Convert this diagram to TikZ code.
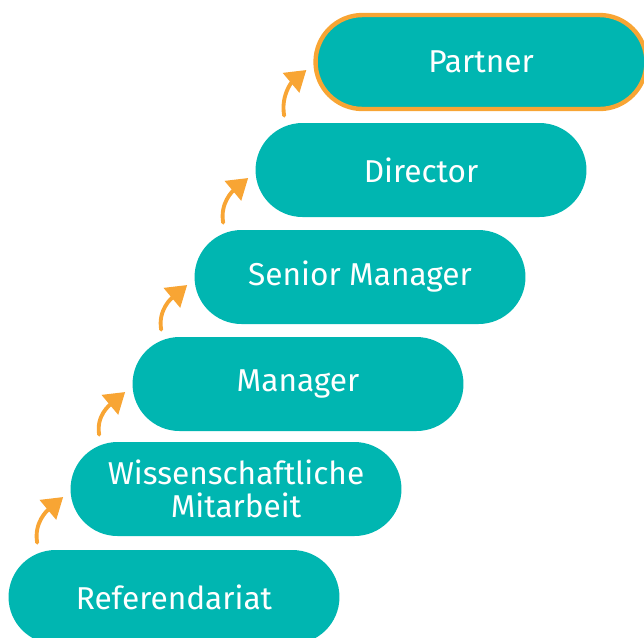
\documentclass[tikz,border=0pt]{standalone}
\usepackage{fontspec}
\setmainfont{Fira Sans}
\usepackage{xcolor}
\usepackage{tikz}
\usetikzlibrary{arrows.meta}

\definecolor{stageteal}{HTML}{00B6B1}
\definecolor{stageorange}{HTML}{F8A534}

\begin{document}
\begin{tikzpicture}[x=0.02cm, y=-0.02cm,
    stage/.style={shape=rectangle, rounded corners=0.94cm, fill=stageteal, text=white,
      minimum width=6.62cm, minimum height=1.88cm, align=center,
      font=\fontsize{18}{18.5}\selectfont},
    top/.style={draw=stageorange, line width=2.5pt},
    up/.style={draw=stageorange, line width=2.2pt, line cap=round,
      -{Triangle[width=0.5cm, length=0.4cm]}}]
    \useasboundingbox (0,0) rectangle (644,637);
    \clip (0,0) rectangle (644,637);

    % the career steps
    \node[stage] (ref) at (174,597) {Referendariat};
    \node[stage] (wiss) at (236,489) {Wissenschaftliche\\Mitarbeit};
    \node[stage] (mgr) at (298,384) {Manager};
    \node[stage] (smgr) at (360,277) {Senior Manager};
    \node[stage] (dir) at (421,170) {Director};
    \node[stage,top] (partner) at (481,62) {Partner};

    % arrows from one step up to the next
    \draw[up] ([shift={(29,-7)}]ref.north west) to[out=100,in=220] ([shift={(-7,8)}]wiss.west);
    \draw[up] ([shift={(29,-7)}]wiss.north west) to[out=100,in=220] ([shift={(-7,8)}]mgr.west);
    \draw[up] ([shift={(29,-7)}]mgr.north west) to[out=100,in=220] ([shift={(-7,8)}]smgr.west);
    \draw[up] ([shift={(29,-7)}]smgr.north west) to[out=100,in=220] ([shift={(-7,8)}]dir.west);
    \draw[up] ([shift={(29,-7)}]dir.north west) to[out=100,in=220] ([shift={(-7,8)}]partner.west);
  \end{tikzpicture}
\end{document}
